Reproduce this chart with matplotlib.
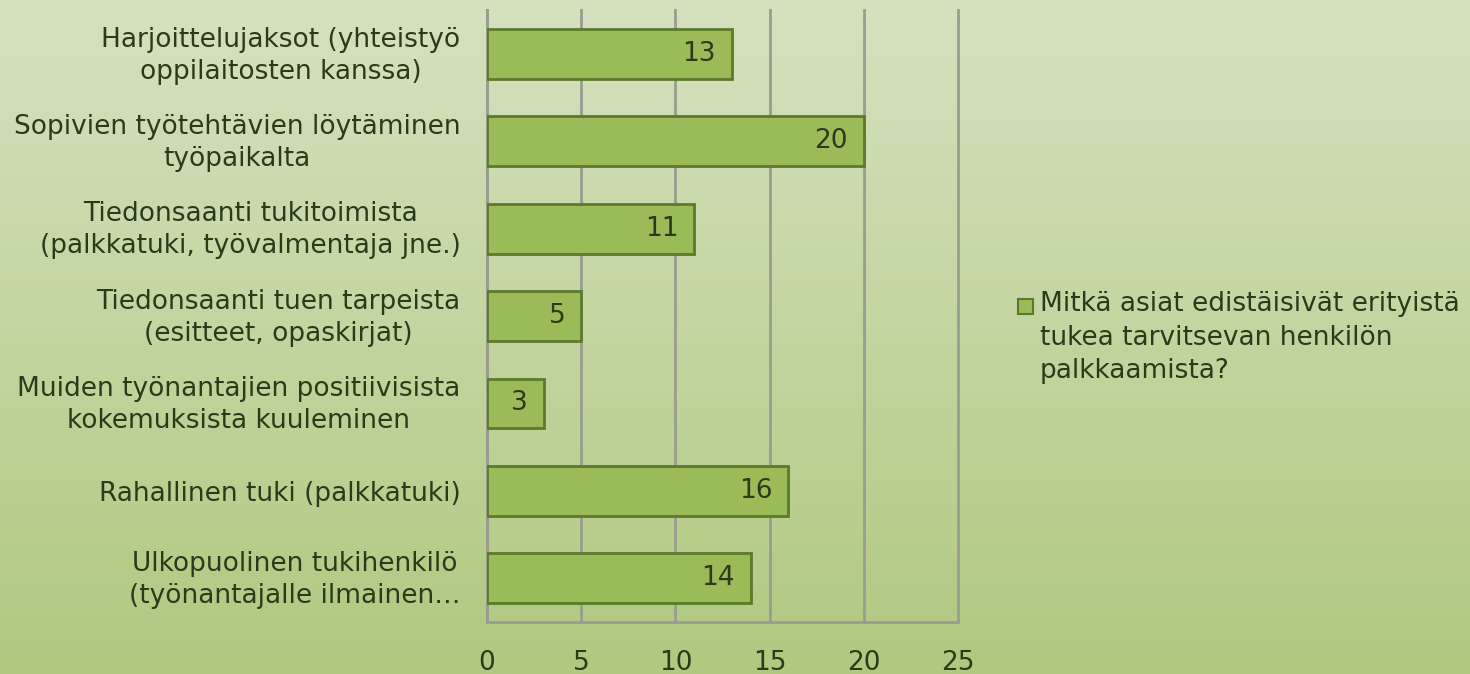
import numpy as np
import matplotlib.pyplot as plt
import matplotlib.transforms as mtransforms
from matplotlib.colors import LinearSegmentedColormap
from matplotlib.patches import Rectangle

categories = [
    'Harjoittelujaksot (yhteistyö\noppilaitosten kanssa)',
    'Sopivien työtehtävien löytäminen\ntyöpaikalta',
    'Tiedonsaanti tukitoimista\n(palkkatuki, työvalmentaja jne.)',
    'Tiedonsaanti tuen tarpeista\n(esitteet, opaskirjat)',
    'Muiden työnantajien positiivisista\nkokemuksista kuuleminen',
    'Rahallinen tuki (palkkatuki)',
    'Ulkopuolinen tukihenkilö\n(työnantajalle ilmainen…',
]
values = [13, 20, 11, 5, 3, 16, 14]
series_name = 'Mitkä asiat edistäisivät erityistä\ntukea tarvitsevan henkilön\npalkkaamista?'
x_ticks = [0, 5, 10, 15, 20, 25]

text_color = '#2b3a1a'
bar_color = '#9bbb59'
edge_color = '#5b7a2a'
grid_color = '#999d90'
fs = 19

plt.rcParams['font.family'] = ['DejaVu Sans']

fig = plt.figure(figsize=(14.7, 6.74), dpi=100)

# background gradient
bg = fig.add_axes([0, 0, 1, 1], zorder=-10)
cmap = LinearSegmentedColormap.from_list('bg', ['#d6e1c0', '#afc97f'])
bg.imshow(np.linspace(0, 1, 256).reshape(-1, 1), aspect='auto', cmap=cmap,
          extent=[0, 1, 0, 1])
bg.set_axis_off()

ax = fig.add_axes([0.3313, 0.0772, 0.3204, 0.9078])
ax.patch.set_alpha(0)

y = np.arange(len(categories))
bars = ax.barh(y, values, height=0.57, color=bar_color, edgecolor=edge_color,
               linewidth=2, zorder=3)
ax.set_ylim(len(categories) - 0.5, -0.5)
ax.set_xlim(0, 25)
ax.set_xticks(x_ticks)
ax.tick_params(axis='y', length=0, pad=19)
ax.tick_params(axis='x', length=0, pad=20, labelsize=fs, labelcolor=text_color)
ax.set_yticks(y)
ax.set_yticklabels(categories, fontsize=fs, color=text_color,
                   linespacing=1.3, ha='right')
# two-line labels sit a few pixels higher in the original
up = mtransforms.ScaledTranslation(0, 3 / 72, fig.dpi_scale_trans)
for lab in ax.get_yticklabels():
    lab.set_multialignment('center')
    if '\n' in lab.get_text():
        lab.set_transform(lab.get_transform() + up)

ax.grid(axis='x', color=grid_color, linewidth=2, zorder=0)
for gl in ax.get_xgridlines():
    gl.set_clip_on(False)
for side in ['top', 'right']:
    ax.spines[side].set_visible(False)
for side in ['left', 'bottom']:
    ax.spines[side].set_color(grid_color)
    ax.spines[side].set_linewidth(2)

for b, v in zip(bars, values):
    ax.text(v - 0.85, b.get_y() + b.get_height() / 2, str(v), ha='right',
            va='center', fontsize=fs, color=text_color, zorder=4)

# legend: square marker beside first line of the series name
fig.patches.append(Rectangle((1018 / 1470, 1 - 314 / 674), 15 / 1470, 15 / 674,
                             transform=fig.transFigure, facecolor=bar_color,
                             edgecolor=edge_color, linewidth=1.5))
fig.text(1040 / 1470, 1 - 291 / 674, series_name, fontsize=fs,
         color=text_color, ha='left', va='top', linespacing=1.38)

fig.savefig('out.png', dpi=100)
